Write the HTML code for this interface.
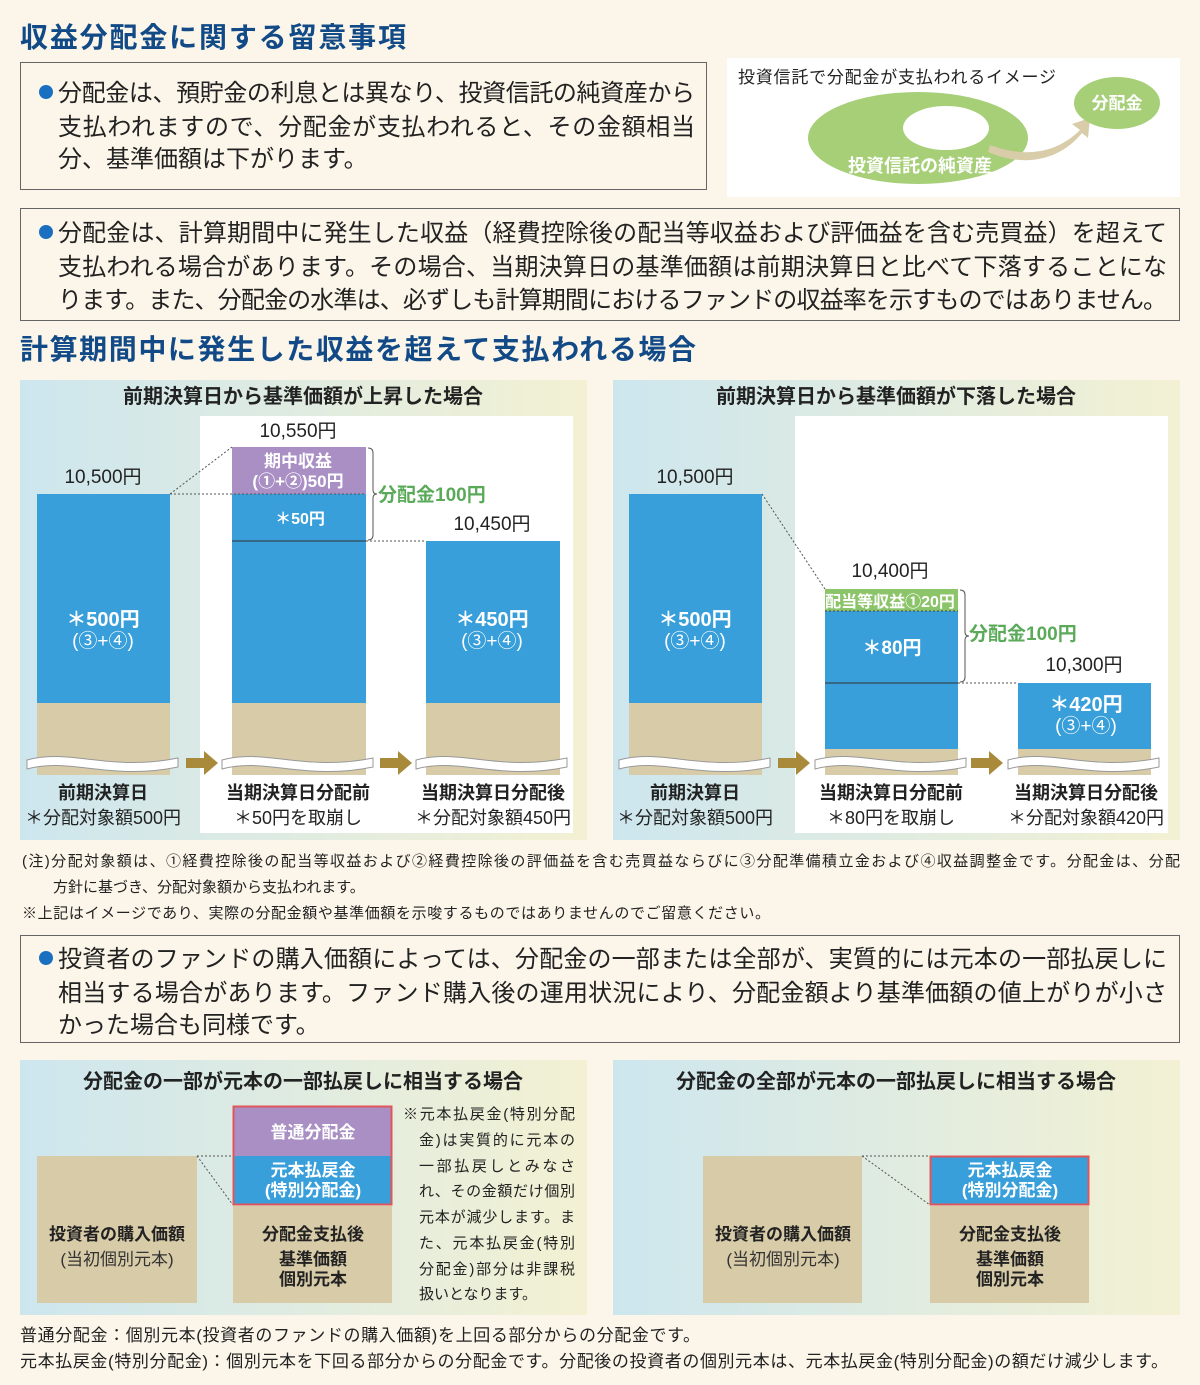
<!DOCTYPE html>
<html><head><meta charset="utf-8"><style>
html,body{margin:0;padding:0;background:#fcf6ea;}
svg{display:block;font-family:"Liberation Sans","Noto Sans CJK JP",sans-serif;}
.b{font-weight:bold;}
</style></head><body>
<svg width="1200" height="1385" viewBox="0 0 1200 1385" xmlns="http://www.w3.org/2000/svg">
<defs>
<linearGradient id="pg" x1="0" y1="0" x2="1" y2="0">
<stop offset="0" stop-color="#cde6ee"/><stop offset="1" stop-color="#f3f1d3"/>
</linearGradient>
</defs>
<rect width="1200" height="1385" fill="#fcf6ea"/>

<!-- Title 1 -->
<text x="20" y="47" font-size="28" class="b" fill="#114a86" textLength="386">収益分配金に関する留意事項</text>

<!-- Box1 -->
<rect x="20.5" y="62.5" width="686" height="127" fill="#fcf6ea" stroke="#666" stroke-width="1"/>
<circle cx="46" cy="92" r="7" fill="#1a6fc0"/>
<text font-size="24" fill="#222">
<tspan x="58" y="101" textLength="637">分配金は、預貯金の利息とは異なり、投資信託の純資産から</tspan>
<tspan x="58" y="135" textLength="637">支払われますので、分配金が支払われると、その金額相当</tspan>
<tspan x="58" y="167">分、基準価額は下がります。</tspan>
</text>

<!-- Image box -->
<rect x="727" y="58" width="453" height="139" fill="#ffffff"/>
<text x="738" y="83" font-size="17" fill="#222" textLength="318">投資信託で分配金が支払われるイメージ</text>
<ellipse cx="918" cy="138" rx="110" ry="46" fill="#a6cf78"/>
<ellipse cx="946" cy="128" rx="43" ry="22" fill="#fff"/>
<path d="M990,145 C1030,160 1060,150 1080,130 L1072,124 L1090,118 L1088,138 L1082,133 C1060,160 1025,168 988,152 Z" fill="#d9cca9"/>
<ellipse cx="1117" cy="103" rx="43" ry="26" fill="#a6cf78"/>
<text x="1117" y="109" font-size="17" class="b" fill="#fff" text-anchor="middle">分配金</text>
<text x="920" y="172" font-size="18" class="b" fill="#fff" text-anchor="middle">投資信託の純資産</text>

<!-- Box2 -->
<rect x="20.5" y="208.5" width="1159" height="112" fill="#fcf6ea" stroke="#666" stroke-width="1"/>
<circle cx="46" cy="232" r="7" fill="#1a6fc0"/>
<text font-size="24" fill="#222">
<tspan x="58" y="241" textLength="1109">分配金は、計算期間中に発生した収益（経費控除後の配当等収益および評価益を含む売買益）を超えて</tspan>
<tspan x="58" y="275" textLength="1109">支払われる場合があります。その場合、当期決算日の基準価額は前期決算日と比べて下落することにな</tspan>
<tspan x="58" y="308" textLength="1109">ります。また、分配金の水準は、必ずしも計算期間におけるファンドの収益率を示すものではありません。</tspan>
</text>

<!-- Title 2 -->
<text x="20" y="359" font-size="28" class="b" fill="#114a86" textLength="676">計算期間中に発生した収益を超えて支払われる場合</text>

<!-- Left panel -->
<rect x="20" y="380" width="567" height="460" fill="url(#pg)"/>
<rect x="200" y="416" width="373" height="417" fill="#fff"/>
<text x="303" y="403" font-size="20" class="b" fill="#222" text-anchor="middle">前期決算日から基準価額が上昇した場合</text>
<!-- bar1 -->
<rect x="37" y="494" width="133" height="209" fill="#389fda"/>
<rect x="37" y="703" width="133" height="72" fill="#d8cba8"/>
<text x="103" y="483" font-size="19" fill="#222" text-anchor="middle">10,500円</text>
<text x="103" y="626" font-size="20" class="b" fill="#fff" text-anchor="middle">＊500円</text>
<text x="103" y="647" font-size="19" fill="#fff" text-anchor="middle">(③+④)</text>
<!-- bar2 -->
<rect x="232" y="447" width="134" height="47" fill="#a98fc4"/>
<rect x="232" y="494" width="134" height="209" fill="#389fda"/>
<rect x="232" y="703" width="134" height="72" fill="#d8cba8"/>
<line x1="232" y1="541" x2="366" y2="541" stroke="#333" stroke-width="1"/>
<line x1="170" y1="494" x2="232" y2="447" stroke="#555" stroke-dasharray="2,2"/>
<line x1="170" y1="494" x2="366" y2="494" stroke="#555" stroke-dasharray="2,2"/>
<line x1="366" y1="541" x2="426" y2="541" stroke="#555" stroke-dasharray="2,2"/>
<text x="298" y="437" font-size="19" fill="#222" text-anchor="middle">10,550円</text>
<text x="298" y="467" font-size="17" class="b" fill="#fff" text-anchor="middle">期中収益</text>
<text x="298" y="487" font-size="17" class="b" fill="#fff" text-anchor="middle">(①+②)50円</text>
<text x="300" y="524" font-size="16" class="b" fill="#fff" text-anchor="middle">＊50円</text>
<path d="M368,448 q5,0 5,5 v37 q0,4 4,4 q-4,0 -4,4 v37 q0,5 -5,5" fill="none" stroke="#555" stroke-width="1"/>
<text x="378" y="501" font-size="19" class="b" fill="#5aaa5a">分配金100円</text>
<!-- bar3 -->
<rect x="426" y="541" width="134" height="162" fill="#389fda"/>
<rect x="426" y="703" width="134" height="72" fill="#d8cba8"/>
<text x="492" y="530" font-size="19" fill="#222" text-anchor="middle">10,450円</text>
<text x="492" y="626" font-size="20" class="b" fill="#fff" text-anchor="middle">＊450円</text>
<text x="492" y="647" font-size="19" fill="#fff" text-anchor="middle">(③+④)</text>
<!-- waves -->
<g fill="#fff" stroke="#999" stroke-width="1">
<path d="M27,760 C70,748 110,772 178,758 L178,767 C110,781 70,757 27,769 Z"/>
<path d="M222,760 C265,748 305,772 373,758 L373,767 C305,781 265,757 222,769 Z"/>
<path d="M416,760 C459,748 499,772 567,758 L567,767 C499,781 459,757 416,769 Z"/>
</g>
<g fill="#a88a3a">
<path d="M186,758 h18 v-7 l14,12 l-14,12 v-7 h-18 Z"/>
<path d="M380,758 h18 v-7 l14,12 l-14,12 v-7 h-18 Z"/>
</g>
<g font-size="18" fill="#222" text-anchor="middle">
<text x="103" y="799" class="b">前期決算日</text>
<text x="103" y="824">＊分配対象額500円</text>
<text x="298" y="799" class="b">当期決算日分配前</text>
<text x="298" y="824">＊50円を取崩し</text>
<text x="493" y="799" class="b">当期決算日分配後</text>
<text x="493" y="824">＊分配対象額450円</text>
</g>

<!-- Right panel -->
<rect x="613" y="380" width="567" height="460" fill="url(#pg)"/>
<rect x="795" y="416" width="373" height="417" fill="#fff"/>
<text x="896" y="403" font-size="20" class="b" fill="#222" text-anchor="middle">前期決算日から基準価額が下落した場合</text>
<rect x="629" y="494" width="133" height="209" fill="#389fda"/>
<rect x="629" y="703" width="133" height="72" fill="#d8cba8"/>
<text x="695" y="483" font-size="19" fill="#222" text-anchor="middle">10,500円</text>
<text x="695" y="626" font-size="20" class="b" fill="#fff" text-anchor="middle">＊500円</text>
<text x="695" y="647" font-size="19" fill="#fff" text-anchor="middle">(③+④)</text>
<rect x="825" y="589" width="133" height="22" fill="#8cc46a"/>
<rect x="825" y="611" width="133" height="138" fill="#389fda"/>
<rect x="825" y="749" width="133" height="26" fill="#d8cba8"/>
<line x1="825" y1="683" x2="958" y2="683" stroke="#333"/>
<line x1="825" y1="611" x2="958" y2="611" stroke="#444" stroke-dasharray="2,2"/>
<line x1="762" y1="494" x2="825" y2="589" stroke="#555" stroke-dasharray="2,2"/>
<line x1="958" y1="683" x2="1018" y2="683" stroke="#555" stroke-dasharray="2,2"/>
<text x="890" y="577" font-size="19" fill="#222" text-anchor="middle">10,400円</text>
<text x="890" y="607" font-size="16" class="b" fill="#fff" text-anchor="middle">配当等収益①20円</text>
<text x="892" y="654" font-size="19" class="b" fill="#fff" text-anchor="middle">＊80円</text>
<path d="M960,590 q5,0 5,5 v37 q0,4 4,4 q-4,0 -4,4 v37 q0,5 -5,5" fill="none" stroke="#555"/>
<text x="969" y="640" font-size="19" class="b" fill="#5aaa5a">分配金100円</text>
<rect x="1018" y="683" width="133" height="66" fill="#389fda"/>
<rect x="1018" y="749" width="133" height="26" fill="#d8cba8"/>
<text x="1084" y="671" font-size="19" fill="#222" text-anchor="middle">10,300円</text>
<text x="1086" y="711" font-size="20" class="b" fill="#fff" text-anchor="middle">＊420円</text>
<text x="1086" y="732" font-size="19" fill="#fff" text-anchor="middle">(③+④)</text>
<g fill="#fff" stroke="#999" stroke-width="1">
<path d="M619,760 C662,748 702,772 770,758 L770,767 C702,781 662,757 619,769 Z"/>
<path d="M815,760 C858,748 898,772 966,758 L966,767 C898,781 858,757 815,769 Z"/>
<path d="M1008,760 C1051,748 1091,772 1159,758 L1159,767 C1091,781 1051,757 1008,769 Z"/>
</g>
<g fill="#a88a3a">
<path d="M778,758 h18 v-7 l14,12 l-14,12 v-7 h-18 Z"/>
<path d="M971,758 h18 v-7 l14,12 l-14,12 v-7 h-18 Z"/>
</g>
<g font-size="18" fill="#222" text-anchor="middle">
<text x="695" y="799" class="b">前期決算日</text>
<text x="695" y="824">＊分配対象額500円</text>
<text x="891" y="799" class="b">当期決算日分配前</text>
<text x="891" y="824">＊80円を取崩し</text>
<text x="1086" y="799" class="b">当期決算日分配後</text>
<text x="1086" y="824">＊分配対象額420円</text>
</g>

<!-- Footnotes -->
<g font-size="15" fill="#222">
<text x="22" y="866" textLength="1158">(注)分配対象額は、①経費控除後の配当等収益および②経費控除後の評価益を含む売買益ならびに③分配準備積立金および④収益調整金です。分配金は、分配</text>
<text x="53" y="892">方針に基づき、分配対象額から支払われます。</text>
<text x="22" y="918" textLength="748">※上記はイメージであり、実際の分配金額や基準価額を示唆するものではありませんのでご留意ください。</text>
</g>

<!-- Box3 -->
<rect x="20.5" y="935.5" width="1159" height="107" fill="#fcf6ea" stroke="#666"/>
<circle cx="46" cy="958" r="7" fill="#1a6fc0"/>
<text font-size="24" fill="#222">
<tspan x="58" y="967" textLength="1109">投資者のファンドの購入価額によっては、分配金の一部または全部が、実質的には元本の一部払戻しに</tspan>
<tspan x="58" y="1001" textLength="1109">相当する場合があります。ファンド購入後の運用状況により、分配金額より基準価額の値上がりが小さ</tspan>
<tspan x="58" y="1033">かった場合も同様です。</tspan>
</text>

<!-- Bottom left panel -->
<rect x="20" y="1060" width="567" height="255" fill="url(#pg)"/>
<text x="303" y="1088" font-size="20" class="b" fill="#222" text-anchor="middle">分配金の一部が元本の一部払戻しに相当する場合</text>
<rect x="37" y="1156" width="160" height="147" fill="#d8cba8"/>
<text x="117" y="1240" font-size="17" class="b" fill="#222" text-anchor="middle">投資者の購入価額</text>
<text x="117" y="1265" font-size="17" fill="#333" text-anchor="middle">(当初個別元本)</text>
<line x1="197" y1="1156" x2="233" y2="1156" stroke="#555" stroke-dasharray="2,2"/>
<line x1="197" y1="1156" x2="233" y2="1205" stroke="#555" stroke-dasharray="2,2"/>
<rect x="233" y="1106" width="159" height="50" fill="#a98fc4"/>
<rect x="233" y="1156" width="159" height="49" fill="#389fda"/>
<rect x="233.5" y="1106.5" width="158" height="98" fill="none" stroke="#e0555a" stroke-width="2"/>
<rect x="233" y="1206" width="159" height="97" fill="#d8cba8"/>
<text x="313" y="1138" font-size="17" class="b" fill="#fff" text-anchor="middle">普通分配金</text>
<text x="313" y="1176" font-size="17" class="b" fill="#fff" text-anchor="middle">元本払戻金</text>
<text x="313" y="1196" font-size="17" class="b" fill="#fff" text-anchor="middle">(特別分配金)</text>
<text x="313" y="1240" font-size="17" class="b" fill="#222" text-anchor="middle">分配金支払後</text>
<text x="313" y="1265" font-size="17" class="b" fill="#222" text-anchor="middle">基準価額</text>
<text x="313" y="1285" font-size="17" class="b" fill="#222" text-anchor="middle">個別元本</text>
<g font-size="15" fill="#222">
<text x="403" y="1119" textLength="172">※元本払戻金(特別分配</text>
<text x="419" y="1145" textLength="156">金)は実質的に元本の</text>
<text x="419" y="1171" textLength="156">一部払戻しとみなさ</text>
<text x="419" y="1196" textLength="156">れ、その金額だけ個別</text>
<text x="419" y="1222" textLength="156">元本が減少します。ま</text>
<text x="419" y="1248" textLength="156">た、元本払戻金(特別</text>
<text x="419" y="1274" textLength="156">分配金)部分は非課税</text>
<text x="419" y="1299">扱いとなります。</text>
</g>

<!-- Bottom right panel -->
<rect x="613" y="1060" width="567" height="255" fill="url(#pg)"/>
<text x="896" y="1088" font-size="20" class="b" fill="#222" text-anchor="middle">分配金の全部が元本の一部払戻しに相当する場合</text>
<rect x="703" y="1156" width="159" height="147" fill="#d8cba8"/>
<text x="783" y="1240" font-size="17" class="b" fill="#222" text-anchor="middle">投資者の購入価額</text>
<text x="783" y="1265" font-size="17" fill="#333" text-anchor="middle">(当初個別元本)</text>
<line x1="862" y1="1156" x2="930" y2="1156" stroke="#555" stroke-dasharray="2,2"/>
<line x1="862" y1="1156" x2="930" y2="1205" stroke="#555" stroke-dasharray="2,2"/>
<rect x="930" y="1156" width="159" height="49" fill="#389fda"/>
<rect x="930.5" y="1156.5" width="158" height="48" fill="none" stroke="#e0555a" stroke-width="2"/>
<rect x="930" y="1206" width="159" height="97" fill="#d8cba8"/>
<text x="1010" y="1176" font-size="17" class="b" fill="#fff" text-anchor="middle">元本払戻金</text>
<text x="1010" y="1196" font-size="17" class="b" fill="#fff" text-anchor="middle">(特別分配金)</text>
<text x="1010" y="1240" font-size="17" class="b" fill="#222" text-anchor="middle">分配金支払後</text>
<text x="1010" y="1265" font-size="17" class="b" fill="#222" text-anchor="middle">基準価額</text>
<text x="1010" y="1285" font-size="17" class="b" fill="#222" text-anchor="middle">個別元本</text>

<!-- Bottom notes -->
<g font-size="17" fill="#222">
<text x="20" y="1341" textLength="680">普通分配金：個別元本(投資者のファンドの購入価額)を上回る部分からの分配金です。</text>
<text x="20" y="1367" textLength="1148">元本払戻金(特別分配金)：個別元本を下回る部分からの分配金です。分配後の投資者の個別元本は、元本払戻金(特別分配金)の額だけ減少します。</text>
</g>
</svg>
</body></html>
